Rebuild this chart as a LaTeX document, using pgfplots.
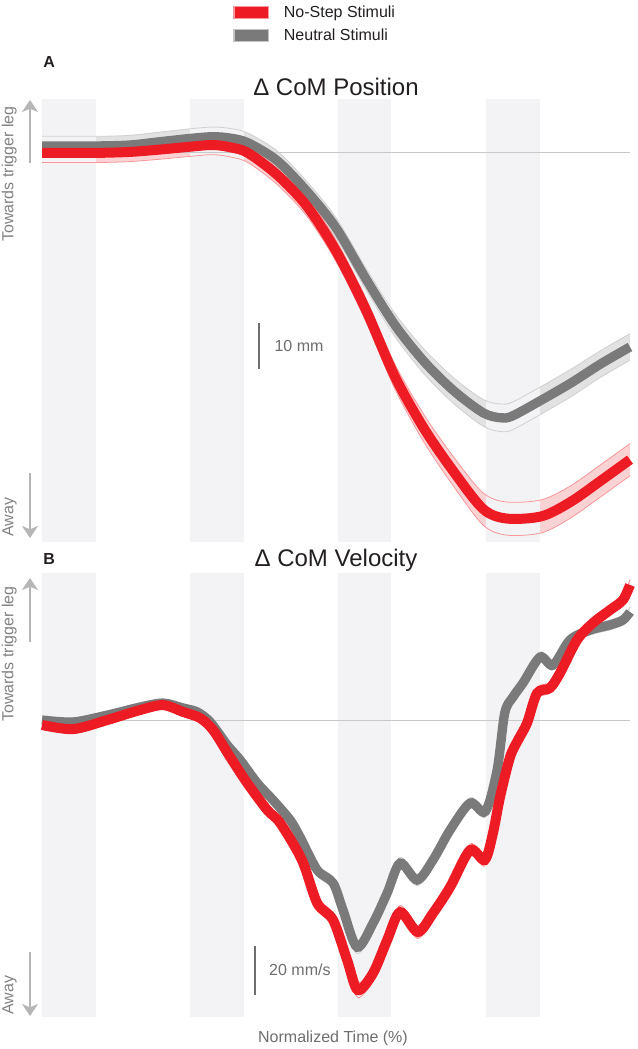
\documentclass[border=0pt]{standalone}
\usepackage{fontspec}
\setmainfont{Liberation Sans}
\usepackage{pgfplots}
\usepackage{pgfplotstable}
\pgfplotsset{compat=1.18}
\usepgfplotslibrary{fillbetween}
\usetikzlibrary{arrows.meta}
\definecolor{myred}{RGB}{237,28,36}
\definecolor{mygray}{RGB}{122,122,122}
\definecolor{bandbg}{RGB}{243,243,246}
\definecolor{zerocol}{RGB}{200,200,200}
\definecolor{arrowcol}{RGB}{182,182,182}
\definecolor{labcol}{RGB}{130,130,130}
\definecolor{scalecol}{RGB}{110,110,110}
\definecolor{titlecol}{RGB}{35,31,32}

\pgfplotstableread{
x y h
0 1.5 2.1
5 1.5 2.1
10 1.5 2.1
15 1.7 2.1
20 2.4 2.1
25 3.1 2.1
29 3.5 2.1
32 3.2 2.1
35 2.2 2.1
40 -1.7 2.1
45 -8.3 2.1
50 -16.3 2.2
55 -27.2 2.3
60 -37.4 2.5
65 -45.4 2.7
70 -51.7 2.8
75 -56.5 2.9
78 -57.6 3.0
80 -57.2 3.0
85 -53.7 3.0
90 -50.0 3.0
95 -45.9 2.9
100 -42.2 2.9
}\grayA

\pgfplotstableread{
x y h
0 0 2.1
5 0 2.1
10 0 2.1
15 0.2 2.1
20 0.7 2.1
25 1.3 2.1
29 1.7 2.1
32 1.2 2.1
35 0 2.1
40 -4.8 2.1
45 -11.5 2.2
50 -21.3 2.3
55 -33.9 2.5
60 -48.6 2.7
65 -60.0 3.0
70 -69.3 3.2
75 -77.4 3.5
79 -79.5 3.6
85 -79.0 3.6
90 -75.8 3.5
95 -71.3 3.5
100 -66.7 3.5
}\redA

\pgfplotstableread{
x y h
0 0 1.6
5.3 -0.8 1.6
11.1 2.0 1.6
16.7 5.3 1.6
20.6 6.9 1.6
24.0 4.9 1.6
26.4 3.3 1.6
28.6 -0.8 1.6
31.5 -10.2 1.7
33.7 -16.3 1.7
36.6 -25.7 1.8
39.3 -32.7 1.8
42.2 -40.8 1.9
43.9 -47.8 2.0
46.8 -61.2 2.2
49.5 -66.5 2.3
51.2 -77.6 2.4
53.6 -92.7 2.6
56.3 -82.9 2.5
58.7 -70.6 2.4
60.9 -58.4 2.4
63.8 -65.3 2.3
66.5 -57.1 2.3
69.4 -44.9 2.2
72.8 -33.9 2.2
75.4 -37.3 2.2
77.4 -20.4 2.1
78.7 2.9 2.0
80.1 9.4 2.0
81.8 15.1 2.0
84.7 25.7 2.0
86.9 22.4 2.0
89.8 32.7 2.0
93.2 36.7 2.0
96.6 38.8 2.0
98.8 40.8 2.0
100 44.1 2.0
}\grayB

\pgfplotstableread{
x y h
0 -2.0 1.8
5.3 -3.7 1.8
11.1 0 1.8
16.7 4.1 1.8
20.6 6.1 1.8
24.0 3.3 1.8
26.9 0.8 1.8
29.1 -4.1 1.8
32.0 -15.1 1.9
34.9 -25.7 1.9
38.3 -36.7 2.0
40.5 -42.0 2.0
44.2 -57.1 2.2
46.8 -74.7 2.4
49.5 -81.6 2.6
51.9 -98.0 2.9
53.7 -110.2 3.0
56.3 -103.3 3.0
58.7 -89.8 2.8
60.9 -78.4 2.7
63.9 -86.5 2.7
66.5 -78.8 2.6
69.4 -68.2 2.5
72.8 -53.1 2.5
75.3 -57.1 2.5
76.7 -46.1 2.4
77.9 -31.4 2.3
79.6 -15.1 2.2
81.0 -8.0 2.2
82.5 -1.2 2.2
84.2 11.0 2.2
86.4 13.1 2.2
88.1 19.2 2.2
91.0 32.7 2.2
93.7 39.6 2.2
96.6 44.9 2.2
98.8 49.0 2.2
100 55.1 2.2
}\redB

\pgfplotsset{
  panel/.style={
    anchor=north west, scale only axis, width=441pt,
    xmin=0, xmax=100, hide axis, clip=false,
    title style={at={(0.5,1)}, anchor=base, text=titlecol, font=\fontsize{18}{20}\selectfont},
  },
  vband/.style={draw=none, fill=bandbg, forget plot},
}

\begin{document}
\begin{tikzpicture}

% ---------------- Panel A ----------------
\begin{axis}[panel,
  at={(31.5pt,-74.25pt)}, height=332.25pt,
  ymin=-84.6, ymax=11.7,
  title={Δ CoM Position}, title style={yshift=-3pt},
  legend style={at={(0.318,1.2235)}, anchor=north west, draw=none, fill=none,
    font=\fontsize{12}{14}\selectfont, text=titlecol, row sep=3pt,
    /tikz/every odd column/.append style={column sep=9pt}},
  legend cell align=left,
]
\addplot[vband] coordinates {(0,-84.6) (0,11.7) (9.2,11.7) (9.2,-84.6)} -- cycle;
\addplot[vband] coordinates {(25.2,-84.6) (25.2,11.7) (34.4,11.7) (34.4,-84.6)} -- cycle;
\addplot[vband] coordinates {(50.3,-84.6) (50.3,11.7) (59.4,11.7) (59.4,-84.6)} -- cycle;
\addplot[vband] coordinates {(75.5,-84.6) (75.5,11.7) (84.7,11.7) (84.7,-84.6)} -- cycle;
\addplot[zerocol, line width=0.75pt, forget plot] coordinates {(0,0) (100,0)};

\addplot[name path=gAu, draw=mygray!35, line width=0.6pt, smooth, forget plot] table[x=x, y expr=\thisrow{y}+\thisrow{h}] {\grayA};
\addplot[name path=gAl, draw=mygray!35, line width=0.6pt, smooth, forget plot] table[x=x, y expr=\thisrow{y}-\thisrow{h}] {\grayA};
\addplot[fill=mygray, fill opacity=0.22, draw=none, forget plot] fill between[of=gAu and gAl];
\addplot[name path=rAu, draw=myred!45, line width=0.6pt, smooth, forget plot] table[x=x, y expr=\thisrow{y}+\thisrow{h}] {\redA};
\addplot[name path=rAl, draw=myred!45, line width=0.6pt, smooth, forget plot] table[x=x, y expr=\thisrow{y}-\thisrow{h}] {\redA};
\addplot[fill=myred, fill opacity=0.2, draw=none, forget plot] fill between[of=rAu and rAl];

\addplot[mygray, line width=7pt, smooth, forget plot] table[x=x, y=y] {\grayA};
\addplot[myred, line width=7.5pt, smooth, forget plot] table[x=x, y=y] {\redA};

\addplot[scalecol, line width=1.5pt, forget plot] coordinates {(36.9,-37) (36.9,-47)};
\node[anchor=west, inner sep=0pt, text=scalecol, font=\fontsize{12}{14}\selectfont] at (axis cs:39.5,-42) {10 mm};

\addlegendimage{legend image code/.code={\fill[myred, draw=myred!45, line width=1pt] (0pt,-4.5pt) rectangle (26pt,4.5pt);}}
\addlegendentry{No-Step Stimuli}
\addlegendimage{legend image code/.code={\fill[mygray, draw=mygray!45, line width=1pt] (0pt,-4.5pt) rectangle (26pt,4.5pt);}}
\addlegendentry{Neutral Stimuli}
\end{axis}

% ---------------- Panel B ----------------
\begin{axis}[panel,
  at={(31.5pt,-429.75pt)}, height=333pt,
  ymin=-121.2, ymax=60,
  title={Δ CoM Velocity}, title style={yshift=-0.75pt},
]
\addplot[vband] coordinates {(0,-121.2) (0,60) (9.2,60) (9.2,-121.2)} -- cycle;
\addplot[vband] coordinates {(25.2,-121.2) (25.2,60) (34.4,60) (34.4,-121.2)} -- cycle;
\addplot[vband] coordinates {(50.3,-121.2) (50.3,60) (59.4,60) (59.4,-121.2)} -- cycle;
\addplot[vband] coordinates {(75.5,-121.2) (75.5,60) (84.7,60) (84.7,-121.2)} -- cycle;
\addplot[zerocol, line width=0.75pt, forget plot] coordinates {(0,0) (100,0)};

\addplot[name path=gBu, draw=mygray!35, line width=0.6pt, smooth, forget plot] table[x=x, y expr=\thisrow{y}+\thisrow{h}] {\grayB};
\addplot[name path=gBl, draw=mygray!35, line width=0.6pt, smooth, forget plot] table[x=x, y expr=\thisrow{y}-\thisrow{h}] {\grayB};
\addplot[fill=mygray, fill opacity=0.22, draw=none, forget plot] fill between[of=gBu and gBl];
\addplot[name path=rBu, draw=myred!45, line width=0.6pt, smooth, forget plot] table[x=x, y expr=\thisrow{y}+\thisrow{h}] {\redB};
\addplot[name path=rBl, draw=myred!45, line width=0.6pt, smooth, forget plot] table[x=x, y expr=\thisrow{y}-\thisrow{h}] {\redB};
\addplot[fill=myred, fill opacity=0.2, draw=none, forget plot] fill between[of=rBu and rBl];

\addplot[mygray, line width=7pt, smooth, forget plot] table[x=x, y=y] {\grayB};
\addplot[myred, line width=7.5pt, smooth, forget plot] table[x=x, y=y] {\redB};

\addplot[scalecol, line width=1.5pt, forget plot] coordinates {(36.2,-92.2) (36.2,-112.2)};
\node[anchor=west, inner sep=0pt, text=scalecol, font=\fontsize{12}{14}\selectfont] at (axis cs:38.6,-102) {20 mm/s};
\end{axis}

% ---------------- annotations ----------------
\node[anchor=base west, inner sep=0pt, font=\fontsize{12}{14}\bfseries, text=titlecol] at (32.25pt,-51pt) {A};
\node[anchor=base west, inner sep=0pt, font=\fontsize{12}{14}\bfseries, text=titlecol] at (32.25pt,-423pt) {B};

\node[rotate=90, anchor=base west, inner sep=0pt, text=labcol, font=\fontsize{12}{14}\selectfont] at (10.1pt,-181.5pt) {Towards trigger leg};
\node[rotate=90, anchor=base west, inner sep=0pt, text=labcol, font=\fontsize{12}{14}\selectfont] at (10.1pt,-402.75pt) {Away};
\node[rotate=90, anchor=base west, inner sep=0pt, text=labcol, font=\fontsize{12}{14}\selectfont] at (10.1pt,-541.5pt) {Towards trigger leg};
\node[rotate=90, anchor=base west, inner sep=0pt, text=labcol, font=\fontsize{12}{14}\selectfont] at (10.1pt,-761.25pt) {Away};

\draw[arrowcol, line width=1.5pt, -{Stealth[length=9pt, width=12pt, inset=2.5pt]}] (22.5pt,-122.25pt) -- (22.5pt,-75pt);
\draw[arrowcol, line width=1.5pt, -{Stealth[length=9pt, width=12pt, inset=2.5pt]}] (22.5pt,-354.75pt) -- (22.5pt,-403.5pt);
\draw[arrowcol, line width=1.5pt, -{Stealth[length=9pt, width=12pt, inset=2.5pt]}] (22.5pt,-481.5pt) -- (22.5pt,-433.5pt);
\draw[arrowcol, line width=1.5pt, -{Stealth[length=9pt, width=12pt, inset=2.5pt]}] (22.5pt,-714pt) -- (22.5pt,-762pt);

\node[anchor=base, inner sep=0pt, text=scalecol, font=\fontsize{12}{14}\selectfont] at (249.75pt,-781.5pt) {Normalized Time (\%)};

\pgfresetboundingbox
\path[use as bounding box] (0pt,0pt) rectangle (478.5pt,-786.75pt);
\end{tikzpicture}
\end{document}
